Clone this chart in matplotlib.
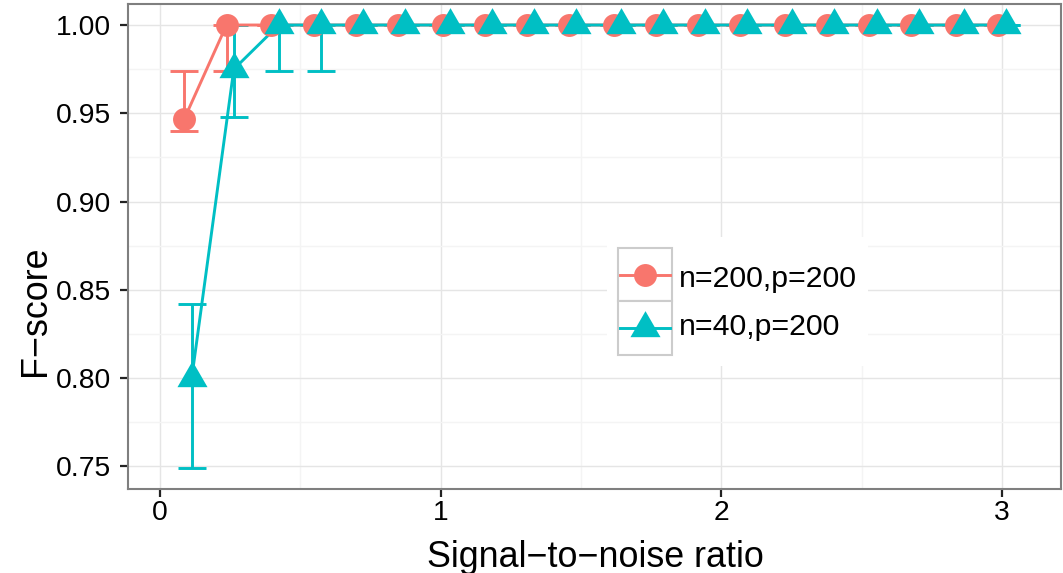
import numpy as np
import matplotlib
matplotlib.use('Agg')
import matplotlib.pyplot as plt
from matplotlib.patches import Rectangle
from matplotlib.lines import Line2D

plt.rcParams['font.family'] = ['Liberation Sans', 'DejaVu Sans']

# data
snr = [0.1, 0.25, 0.41, 0.56, 0.71, 0.86, 1.02, 1.17, 1.32, 1.47,
       1.63, 1.78, 1.93, 2.08, 2.24, 2.39, 2.54, 2.69, 2.85, 3.0]
f_200 = [0.947, 1.0, 1.0, 1.0, 1.0, 1.0, 1.0, 1.0, 1.0, 1.0,
         1.0, 1.0, 1.0, 1.0, 1.0, 1.0, 1.0, 1.0, 1.0, 1.0]
lo_200 = [0.940, 0.974, 1.0, 1.0, 1.0, 1.0, 1.0, 1.0, 1.0, 1.0,
          1.0, 1.0, 1.0, 1.0, 1.0, 1.0, 1.0, 1.0, 1.0, 1.0]
hi_200 = [0.974, 1.0, 1.0, 1.0, 1.0, 1.0, 1.0, 1.0, 1.0, 1.0,
          1.0, 1.0, 1.0, 1.0, 1.0, 1.0, 1.0, 1.0, 1.0, 1.0]
f_40 = [0.800, 0.975, 1.0, 1.0, 1.0, 1.0, 1.0, 1.0, 1.0, 1.0,
        1.0, 1.0, 1.0, 1.0, 1.0, 1.0, 1.0, 1.0, 1.0, 1.0]
lo_40 = [0.749, 0.948, 0.974, 0.974, 1.0, 1.0, 1.0, 1.0, 1.0, 1.0,
         1.0, 1.0, 1.0, 1.0, 1.0, 1.0, 1.0, 1.0, 1.0, 1.0]
hi_40 = [0.842, 1.0, 1.0, 1.0, 1.0, 1.0, 1.0, 1.0, 1.0, 1.0,
         1.0, 1.0, 1.0, 1.0, 1.0, 1.0, 1.0, 1.0, 1.0, 1.0]
labels = ['n=200,p=200', 'n=40,p=200']

red = '#F8766D'
teal = '#00BFC4'
tri = [(0, 1), (-0.866, -0.5), (0.866, -0.5), (0, 1)]
W, H = 1063, 573
LW = 2.1

fig = plt.figure(figsize=(W/100, H/100), dpi=100)
ax = fig.add_axes([128/W, 1-488.7/H, 933/W, 484.7/H])

dodge = 0.013
series = [(f_200, lo_200, hi_200, red, 'o', 16.5, -dodge),
          (f_40, lo_40, hi_40, teal, tri, 25, dodge)]
for f, lo, hi, col, mk, ms, dx in series:
    x = np.array(snr) + dx
    f = np.array(f); lo = np.array(lo); hi = np.array(hi)
    ax.errorbar(x, f, yerr=[f-lo, hi-f], fmt='none', ecolor=col,
                elinewidth=LW, capsize=10.4, capthick=LW, zorder=2)
for f, lo, hi, col, mk, ms, dx in series:
    x = np.array(snr) + dx
    ax.plot(x, f, color=col, lw=LW, zorder=3)
    ax.plot(x, f, linestyle='none', marker=mk, ms=ms, color=col,
            markeredgewidth=0, zorder=4)

ax.set_xlim(-0.114, 3.21)
ax.set_ylim(0.7374, 1.0119)
ax.set_xticks([0, 1, 2, 3])
ax.set_xticks([0.5, 1.5, 2.5], minor=True)
ax.set_yticks([0.75, 0.80, 0.85, 0.90, 0.95, 1.00])
ax.set_yticks([0.775, 0.825, 0.875, 0.925, 0.975], minor=True)
ax.set_yticklabels(['0.75', '0.80', '0.85', '0.90', '0.95', '1.00'])
ax.grid(True, which='major', color='#e5e5e5', lw=1.0, zorder=0)
ax.grid(True, which='minor', color='#f4f4f4', lw=1.0, zorder=0)
ax.set_axisbelow(True)
ax.tick_params(which='major', length=6, width=1.6, color='#222222',
               labelsize=20.3, labelcolor='black')
ax.tick_params(axis='x', pad=2)
ax.tick_params(axis='y', pad=6)
ax.tick_params(which='minor', length=0)
for s in ax.spines.values():
    s.set_color('#7f7f7f')
    s.set_linewidth(1.5)

fig.text(595/W, 1-566.7/H, 'Signal\u2212to\u2212noise ratio', fontsize=25.8,
         ha='center', va='baseline')
fig.text(36/W, 1-246/H, 'F\u2212score', fontsize=25.8, rotation=90,
         ha='right', va='center', rotation_mode='anchor')

# legend drawn by hand (key boxes like ggplot)
def fx(px):
    return px/W
def fy(py):
    return 1-py/H

fig.patches.append(Rectangle((fx(607), fy(366)), (868-607)/W, (366-237)/H,
                             transform=fig.transFigure, facecolor='white',
                             edgecolor='none', zorder=5))
rows = [(248, 301, red, 'o', 16.5, 286.7), (301, 355, teal, tri, 25, 335)]
for (t, b, col, mk, ms, base), lab in zip(rows, labels):
    fig.patches.append(Rectangle((fx(618), fy(b)), 54/W, (b-t)/H,
                                 transform=fig.transFigure, facecolor='white',
                                 edgecolor='#cccccc', lw=1.5, zorder=6))
    yc = (t+b)/2
    fig.lines.append(Line2D([fx(620), fx(670)], [fy(yc), fy(yc)], color=col,
                            lw=LW, transform=fig.transFigure, zorder=7))
    fig.lines.append(Line2D([fx(645)], [fy(yc)], marker=mk, ms=ms, color=col,
                            markeredgewidth=0, linestyle='none',
                            transform=fig.transFigure, zorder=8))
    fig.text(fx(679), fy(base), lab, fontsize=21.8, va='baseline', ha='left',
             zorder=9)

fig.savefig('out.png', dpi=100)
